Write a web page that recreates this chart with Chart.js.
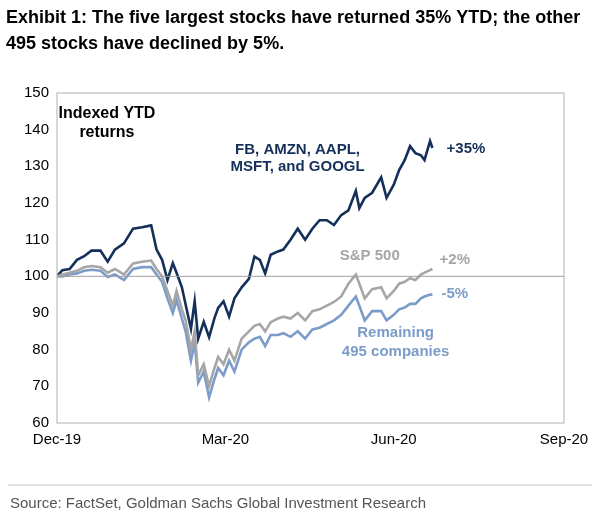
<!DOCTYPE html>
<html>
<head>
<meta charset="utf-8">
<script src="https://cdn.jsdelivr.net/npm/chart.js@4.4.0/dist/chart.umd.min.js"></script>
<style>
  body { margin: 0; background: #fff; }
  #wrap { width: 597px; height: 515px; position: relative; }
</style>
</head>
<body>
<div id="wrap"><canvas id="c" width="597" height="515"></canvas></div>
<script>
// days since 31 Dec 2019
const days = [0, 2.9, 6.8, 10.8, 14.7, 18.6, 23.5, 27.4, 31.3, 36.2, 41.1, 46, 50.9, 53.8, 56.8, 59.7, 62.6, 64.6, 67.5, 69.5,
  72.4, 74.4, 76.3, 79.3, 82.2, 85.1, 87.1, 90, 93, 95.9, 99.8, 103.7, 106.7, 109.6, 112.5, 115.5, 119.4, 122.3, 126.2, 130.1,
  134.1, 138, 141.9, 145.8, 149.7, 153.6, 157.5, 161.5, 163.4, 166.3, 170.3, 175.2, 178.1, 182, 184.9, 187.9, 190.8, 193.7,
  196.7, 198.6, 201.6, 202.9];
const top5 = [100, 101.7, 102, 104.5, 105.5, 107, 107, 104, 107.3, 109, 113, 113.4, 113.9, 107.3, 104.5, 99, 103.6, 101, 97, 92.3,
  85.7, 93.2, 83, 87.6, 83.4, 88.6, 91.4, 93.2, 89, 94, 97, 99.3, 105.4, 104.5, 100.8, 105.9, 106.8, 107.3, 110, 113,
  110, 113, 115.3, 115.3, 114, 116.7, 118, 123.3, 118.6, 121.4, 122.8, 127, 121.4, 125, 129, 131.7, 135.5, 133.6,
  133, 131.7, 136.9, 135];
const sp500 = [100, 100.5, 101, 101.5, 102.5, 102.8, 102.5, 101, 102, 100.5, 103.5, 104, 104.3, 102, 100, 96, 92, 96, 91, 88,
  80, 85, 73, 76, 70, 75, 78, 76, 80, 77, 83, 85, 86.5, 87, 85, 87.5, 88.5, 89, 88.5, 90,
  88, 90.5, 91, 92, 93, 94.5, 98, 100.5, 98, 94, 96.5, 97, 94, 96, 98, 98.5, 99.5, 99,
  100.5, 101, 101.7, 102];
const rest495 = [100, 100, 100.5, 100.8, 101.5, 101.8, 101.5, 99.8, 100.5, 99, 102, 102.5, 102.5, 100.5, 98.5, 94, 90, 93.5, 88.5, 85,
  77, 82, 71, 74, 67, 72, 75, 73, 77, 74, 80, 82, 83, 83.5, 81, 84, 84, 84.5, 83.5, 85,
  83, 85.5, 86, 87, 88, 89.5, 92, 94.5, 92, 88, 90.5, 90.5, 88, 89.5, 91, 91.5, 92.5, 92.5,
  94, 94.5, 95, 95];
const tickDays = [0, 91, 182, 274];
const tickLabels = ['Dec-19', 'Mar-20', 'Jun-20', 'Sep-20'];

const DARK = '#14305a', GREY = '#a6a6a6', LIGHT = '#7b9cc8';
const pts = arr => arr.map((v, i) => ({ x: days[i], y: v }));

const decor = {
  id: 'decor',
  afterDraw(chart) {
    const { ctx, scales: { x, y }, chartArea: a } = chart;
    ctx.save();
    // base line at 100
    ctx.strokeStyle = '#a0a0a0'; ctx.lineWidth = 1;
    ctx.beginPath(); ctx.moveTo(a.left, y.getPixelForValue(100)); ctx.lineTo(a.right, y.getPixelForValue(100)); ctx.stroke();
    // box
    ctx.strokeStyle = '#b0b0b0';
    ctx.strokeRect(a.left, a.top, a.right - a.left, a.bottom - a.top);
    ctx.textAlign = 'center'; ctx.textBaseline = 'middle';
    const t = (s, dx, vy, c) => { ctx.fillStyle = c; ctx.fillText(s, x.getPixelForValue(dx), y.getPixelForValue(vy)); };
    ctx.font = 'bold 16px "Liberation Sans", Arial';
    t('Indexed YTD', 27, 144.5, '#000');
    t('returns', 27, 139.2, '#000');
    ctx.font = 'bold 15px "Liberation Sans", Arial';
    t('FB, AMZN, AAPL,', 130, 134.5, DARK);
    t('MSFT, and GOOGL', 130, 129.8, DARK);
    t('+35%', 221, 134.8, DARK);
    t('S&P 500', 169, 105.7, GREY);
    t('+2%', 215, 104.5, GREY);
    t('-5%', 215, 95.2, LIGHT);
    t('Remaining', 183, 84.5, LIGHT);
    t('495 companies', 183, 79.5, LIGHT);
    // title + source
    ctx.textAlign = 'left'; ctx.textBaseline = 'alphabetic';
    ctx.fillStyle = '#000';
    ctx.font = 'bold 18px "Liberation Sans", Arial';
    ctx.fillText('Exhibit 1: The five largest stocks have returned 35% YTD; the other', 6, 23);
    ctx.fillText('495 stocks have declined by 5%.', 6, 49);
    ctx.fillStyle = '#555';
    ctx.font = '15px "Liberation Sans Narrow", "Liberation Sans", Arial';
    ctx.fillText('Source: FactSet, Goldman Sachs Global Investment Research', 10, 508);
    ctx.strokeStyle = '#c8c8c8';
    ctx.beginPath(); ctx.moveTo(8, 485); ctx.lineTo(592, 485); ctx.stroke();
    ctx.restore();
  }
};

const ds = (label, arr, color) => ({
  label, data: pts(arr), borderColor: color, borderWidth: 2.6,
  pointRadius: 0, tension: 0, fill: false
});

new Chart(document.getElementById('c'), {
  type: 'line',
  data: { datasets: [ds('S&P 500', sp500, GREY), ds('Remaining 495', rest495, LIGHT), ds('Top 5', top5, DARK)] },
  options: {
    responsive: false, animation: false,
    layout: { padding: { top: 93, right: 33, bottom: 67, left: 0 } },
    plugins: { legend: { display: false }, tooltip: { enabled: false } },
    scales: {
      x: {
        type: 'linear', min: 0, max: 274,
        afterBuildTicks: s => { s.ticks = tickDays.map(v => ({ value: v })); },
        afterFit: s => { s.height = 25; },
        grid: { display: false, drawTicks: false },
        border: { display: false },
        ticks: {
          color: '#000', font: { size: 15, family: '"Liberation Sans", Arial' }, maxRotation: 0, padding: 8,
          callback: v => tickLabels[tickDays.indexOf(v)]
        }
      },
      y: {
        min: 60, max: 150,
        afterFit: s => { s.width = 57; },
        grid: { display: false, drawTicks: false },
        border: { display: false },
        ticks: { stepSize: 10, color: '#000', padding: 8, font: { size: 15, family: '"Liberation Sans", Arial' } }
      }
    }
  },
  plugins: [decor]
});
</script>
</body>
</html>
